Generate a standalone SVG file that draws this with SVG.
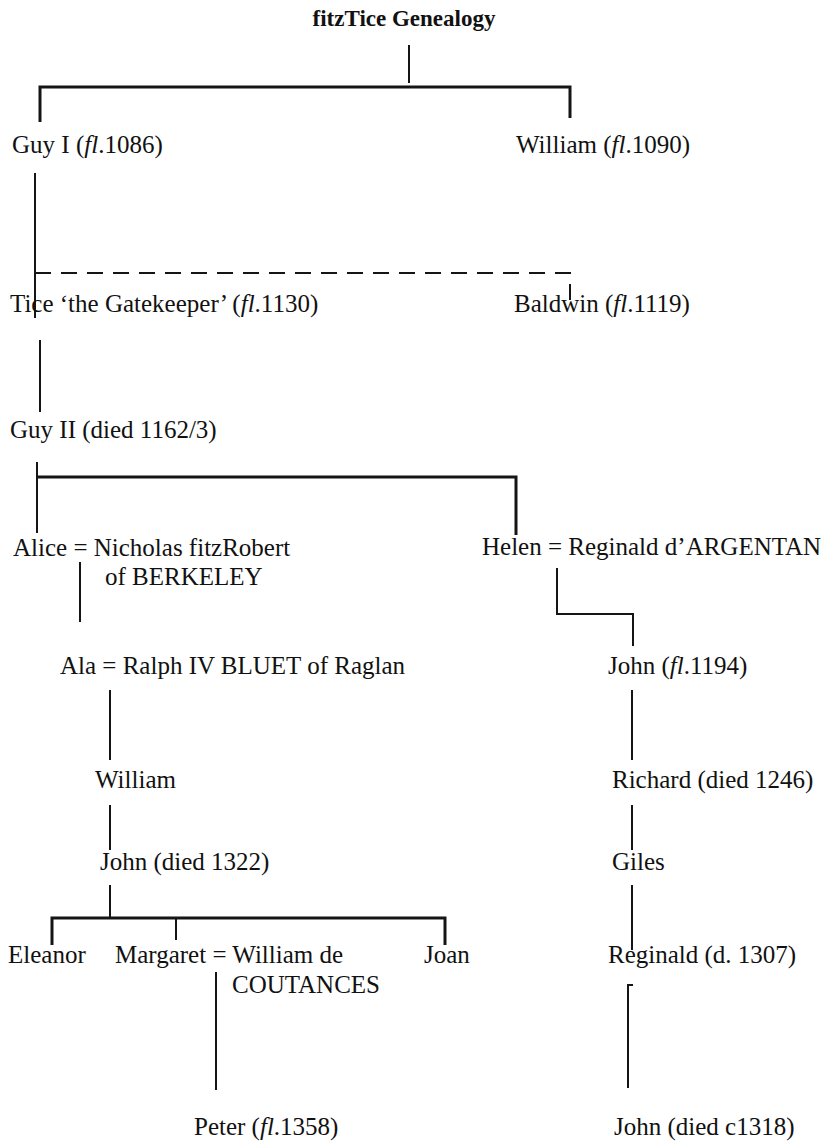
<svg xmlns="http://www.w3.org/2000/svg" width="829" height="1143" viewBox="0 0 829 1143">
<style>
text{font-family:"Liberation Serif","Times New Roman",serif;font-size:25px;fill:#111}
.t{font-weight:bold;font-size:23px}
.i{font-style:italic}
.c line,.c path{stroke:#151515;fill:none;stroke-width:2}
.c .h{stroke-width:3}
.c .d{stroke-dasharray:16 10}
</style>
<rect width="829" height="1143" fill="#fff"/>
<g class="c" id="connectors">
<line x1="409" y1="45" x2="409" y2="83"/>
<path class="h" d="M40 122 V87 H570 V118"/>
<line x1="35" y1="173" x2="35" y2="318"/>
<path class="d" d="M35 273 H570 V306"/>
<line x1="40" y1="340" x2="40" y2="412"/>
<line x1="37" y1="462" x2="37" y2="533"/>
<path class="h" d="M37 477 H516 V535"/>
<line x1="80" y1="562" x2="80" y2="622"/>
<path d="M557 568 V614 H633 V646"/>
<line x1="110" y1="690" x2="110" y2="760"/>
<line x1="632" y1="690" x2="632" y2="760"/>
<line x1="110" y1="805" x2="110" y2="850"/>
<line x1="632" y1="805" x2="632" y2="850"/>
<line x1="110" y1="885" x2="110" y2="918"/>
<path class="h" d="M52 945 V918 H445 V945"/>
<line x1="176" y1="918" x2="176" y2="940"/>
<line x1="632" y1="885" x2="632" y2="950"/>
<line x1="216" y1="972" x2="216" y2="1090"/>
<path d="M633 985 H628 V1088"/>
</g>
<g id="title"><text class="t" x="404" y="26" text-anchor="middle">fitzTice Genealogy</text></g>
<g id="guy1"><text x="12" y="153">Guy I (<tspan class="i">fl</tspan>.1086)</text></g>
<g id="william1"><text x="516" y="153">William (<tspan class="i">fl</tspan>.1090)</text></g>
<g id="tice"><text x="10" y="312">Tice ‘the Gatekeeper’ (<tspan class="i">fl</tspan>.1130)</text></g>
<g id="baldwin"><text x="514" y="312">Baldwin (<tspan class="i">fl</tspan>.1119)</text></g>
<g id="guy2"><text x="10" y="438">Guy II (died 1162/3)</text></g>
<g id="alice"><text x="13" y="556">Alice = Nicholas fitzRobert</text><text x="105" y="585">of BERKELEY</text></g>
<g id="helen"><text x="482" y="555">Helen = Reginald d’ARGENTAN</text></g>
<g id="ala"><text x="60" y="674">Ala = Ralph IV BLUET of Raglan</text></g>
<g id="john1194"><text x="608" y="674">John (<tspan class="i">fl</tspan>.1194)</text></g>
<g id="william2"><text x="95" y="788">William</text></g>
<g id="richard"><text x="612" y="788">Richard (died 1246)</text></g>
<g id="john1322"><text x="100" y="870">John (died 1322)</text></g>
<g id="giles"><text x="612" y="870">Giles</text></g>
<g id="eleanor"><text x="8" y="963">Eleanor</text></g>
<g id="margaret"><text x="115" y="963">Margaret = William de</text><text x="232" y="993">COUTANCES</text></g>
<g id="joan"><text x="424" y="963">Joan</text></g>
<g id="reginald"><text x="608" y="963">Reginald (d. 1307)</text></g>
<g id="peter"><text x="194" y="1135">Peter (<tspan class="i">fl</tspan>.1358)</text></g>
<g id="john1318"><text x="614" y="1135">John (died c1318)</text></g>
</svg>
